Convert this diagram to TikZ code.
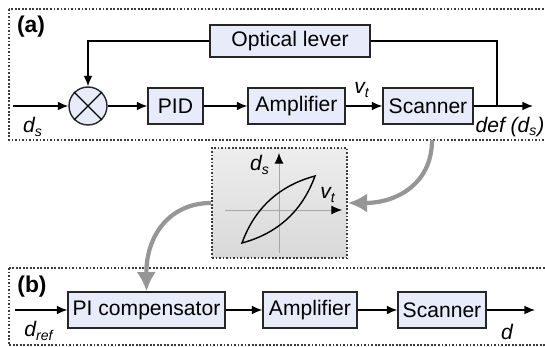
\documentclass[tikz,border=0pt]{standalone}
\usepackage{fontspec}
\setmainfont{Liberation Sans}
\usetikzlibrary{arrows.meta, positioning, calc}

\definecolor{blockfill}{RGB}{232,236,250}
\definecolor{framegray}{RGB}{60,60,60}
\definecolor{curvegray}{RGB}{150,150,150}

\tikzset{
  block/.style={draw=black!85, fill=blockfill, line width=0.7pt, minimum height=0.72cm, inner sep=0pt, font=\fontsize{12}{14}\selectfont},
  sig/.style={-{Latex[length=6pt,width=5pt]}, line width=0.8pt},
  frame/.style={densely dotted, line width=1pt, draw=framegray},
  bigarrow/.style={-{Latex[length=11pt,width=11pt]}, line width=2.4pt, draw=curvegray},
  lab/.style={font=\fontsize{12}{14}\selectfont\itshape, inner sep=0pt},
  tag/.style={font=\fontsize{13}{15}\selectfont\bfseries, inner sep=0pt},
}

\begin{document}
\begin{tikzpicture}[x=0.02cm, y=-0.02cm]
    \useasboundingbox (0,0) rectangle (545,347);
    \clip (0,0) rectangle (545,347);

    % frames
    \draw[frame] (9,9) rectangle (560,140);
    \draw[frame] (9,268) rectangle (560,345);
    \node[tag] (taga) at (31,27) {(a)};
    \node[tag] (tagb) at (32,287) {(b)};

    % (a) closed loop
    \node[circle, draw=black!85, fill=blockfill, line width=0.8pt, minimum size=0.76cm, inner sep=0pt] (sum) at (88,106) {};
    \draw[line width=0.8pt] (sum.north west) -- (sum.south east);
    \draw[line width=0.8pt] (sum.north east) -- (sum.south west);
    \node[block, minimum width=1.1cm] (pid) at (175.5,106) {PID};
    \node[block, minimum width=1.94cm] (ampa) at (296.5,106) {Amplifier};
    \node[block, minimum width=1.8cm] (scana) at (428,106) {Scanner};
    \node[block, minimum width=3.2cm, minimum height=0.64cm] (lever) at (290,41) {Optical lever};
    \coordinate (ina) at (13,106);
    \coordinate (tap) at (497,106);
    \coordinate (outa) at (533,106);

    \draw[sig] (ina) -- (sum);
    \draw[sig] (sum) -- (pid);
    \draw[sig] (pid) -- (ampa);
    \draw[sig] (ampa) -- (scana);
    \draw[sig] (scana) -- (outa);
    \draw[line width=0.8pt] (tap) |- (lever);
    \draw[sig] (lever) -| (sum);

    \node[lab] (ds) at (33,127) {d\textsubscript{s}};
    \node[lab] (vt) at (362,90) {v\textsubscript{t}};
    \node[lab] (def) at (510,127) {def (d\textsubscript{s})};

    % hysteresis inset
    \node[frame, top color=gray!14, middle color=gray!3, bottom color=gray!30, minimum width=2.7cm, minimum height=2.2cm] (plot) at (279.5,203) {};
    \draw[gray!70, line width=0.5pt, -{Latex[length=6pt,width=5pt,color=black]}] (225,210) -- (342,210);
    \draw[gray!70, line width=0.5pt, -{Latex[length=6pt,width=5pt,color=black]}] (279,253) -- (279,153);
    \draw[line width=0.8pt] (242,243) .. controls (254.7,208.1) and (279.1,185.7) .. (315,176)
        .. controls (302.3,210.9) and (277.9,233.3) .. cycle;
    \node[lab] (dsp) at (260,165) {d\textsubscript{s}};
    \node[lab] (vtp) at (328,195) {v\textsubscript{t}};

    % (b) open loop
    \node[block, minimum width=3.14cm] (pic) at (146.5,310) {PI compensator};
    \node[block, minimum width=1.88cm] (ampb) at (310,310) {Amplifier};
    \node[block, minimum width=1.76cm] (scanb) at (442,310) {Scanner};
    \coordinate (inb) at (15,310);
    \coordinate (outb) at (535,310);

    \draw[sig] (inb) -- (pic);
    \draw[sig] (pic) -- (ampb);
    \draw[sig] (ampb) -- (scanb);
    \draw[sig] (scanb) -- (outb);

    \node[lab] (dref) at (39,331) {d\textsubscript{ref}};
    \node[lab] (dout) at (507,332) {d};

    % gray links
    \coordinate (drop) at (432,140);
    \draw[bigarrow] (drop) .. controls (432,185) and (395,203) .. (plot.east);
    \draw[bigarrow] (plot.west) .. controls (170,203) and (146,235) .. (pic.north);
\end{tikzpicture}
\end{document}
